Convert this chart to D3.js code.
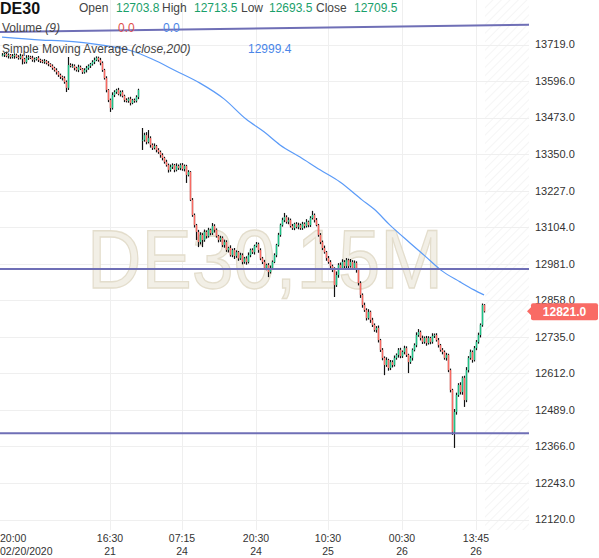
<!DOCTYPE html>
<html><head><meta charset="utf-8">
<script src="https://cdn.jsdelivr.net/npm/d3@7"></script>
<style>
html,body{margin:0;padding:0;background:#fff;}
svg{display:block;font-family:Arial,"Liberation Sans",sans-serif;}
</style></head>
<body>
<svg id="chart" width="599" height="558"></svg>
<script>
// ---- data ----
const closes = [
13684,13687,13680,13684,13677,13680,13684,13677,13674,13680,
13670,13660,13674,13677,13674,13667,13670,13674,13667,13663,
13660,13663,13657,13653,13647,13640,13633,13626,13616,13610,
13606,13593,13573,13650,13647,
13647,13640,13633,13643,13637,13626,13633,13640,13647,13653,
13660,13667,13674,13667,13657,
13633,13606,13566,13532,13505,
13549,13559,13566,13552,13559,13546,
13532,13529,13536,13522,13532,13529,13542,13566,
null,
13398,13414,13391,13404,13381,13371,13377,13364,13357,13347,
13337,13324,13313,13297,13307,13313,13297,13310,13303,13313,
13300,13310,13280,13290,13196,13145,13111,13088,13054,13078,
13061,13088,13074,13095,13084,13108,13095,13074,13061,13068,
13044,13054,13027,13034,13010,13027,13007,13020,12999,13010,
12987,12999,12987,13010,13027,13020,13041,13047,13027,12999,
12987,12967,12977,12953,12967,12987,13010,13044,13078,13111,
13128,13138,13122,13128,13108,13101,13115,13105,13111,13101,
13115,13108,13122,13111,13135,13145,13128,13111,13078,13054,
13034,13020,13000,12987,12973,12960,12909,12943,12977,12967,
12987,12973,12993,12973,12987,12967,12984,12960,12916,12876,
12842,12825,12798,12819,12792,12775,12758,12765,12724,12691,
12664,12640,12657,12630,12650,12640,12664,12674,12691,12670,
12684,12697,12674,12650,12664,12691,12707,12741,12751,12731,
12718,12731,12714,12731,12718,12738,12741,12724,12707,12691,
12684,12664,12674,12623,12556,12415,12482,12539,12573,12549,
12597,12522,12623,12664,12684,12657,12697,12718,12741,12775,
12842,12821
];
const wickUp = [
6,4,8,5,3,7,5,4,6,8, 5,4,9,6,4,7,5,3,6,4, 5,7,4,6,3,5,4,6,3,5,
4,6,5,27,6, 7,5,4,8,5,3,6,7,5,4, 6,8,5,4,7, 5,4,6,3,5, 9,6,4,7,5,6,
4,6,5,7,4,5,6,4, 0,
40,8,10,27,6,5,9,4,6,5, 6,4,7,5,8,6,4,9,5,6, 7,5,4,6,3,6,5,4,7,9,
6,8,5,7,4,10,6,5,4,7, 5,8,6,4,9,5,7,6,4,8, 6,5,7,9,5,6,4,7,5,6,
5,7,4,6,8,5,6,4,7,5, 8,14,6,9,5,7,4,6,8,5, 7,5,9,4,6,14,5,7,4,6,
5,8,4,7,6,5,9,12,6,8, 9,6,7,5,10,6,8,5,4,6, 5,8,6,9,4,7,5,6,8,4,
6,5,9,4,7,6,8,5,6,7, 5,8,6,4,7,5,6,9,10,5, 8,5,7,6,4,9,5,6,7,4,
6,5,7,4,5,4,10,8,6,9, 5,7,10,6,8,5,7,6,8,5, 5,3
];
const wickDown = [
5,7,4,8,6,5,9,4,6,5, 18,6,5,7,4,6,8,5,7,6, 4,6,5,7,4,6,5,8,6,7,
8,6,14,7,5, 6,8,5,7,4,6,5,8,6,7, 5,7,4,6,8, 6,5,8,7,13, 5,7,6,4,8,5,
7,5,6,8,4,6,5,7, 0,
34,6,8,5,9,7,5,8,6,9, 8,6,5,9,6,7,8,5,6,7, 6,8,27,5,4,6,8,27,17,8,
24,6,8,5,7,6,9,5,8,6, 7,9,6,8,5,7,10,6,8,5, 8,6,9,5,7,6,8,5,9,6,
7,6,8,17,5,6,4,7,5,6, 5,7,6,8,5,6,7,5,8,6, 6,8,5,7,6,5,8,4,6,7,
7,5,9,6,8,7,40,6,9,7, 6,9,7,8,5,7,6,9,8,10, 9,6,8,5,10,7,6,9,8,7,
8,34,6,9,7,8,5,6,9,7, 6,8,7,37,6,9,5,7,6,8, 7,6,9,5,8,6,7,5,8,6,
8,6,9,7,8,10,54,9,6,8, 9,23,7,8,6,9,5,7,6,8, 6,4
];
// 200-period SMA readings: [bar index, value]
const smaIdx = [0,20,30,50,65,75,87,99,111,122,131,139,149,159,169,180,186,194,204,212,220,229,236,241];
const smaVal = [13744,13734,13731,13717,13697,13670,13630,13589,13536,13468,13425,13381,13340,13297,13256,13196,13165,13111,13051,13004,12957,12920,12893,12876];
// horizontal levels
const levels = [12963, 12410];
const trendLine = [[0, 13761], [260, 13785]]; // [bar index, price]
const yTicks = [13719,13596,13473,13350,13227,13104,12981,12858,12735,12612,12489,12366,12243,12120];
const xTickIdx = [54, 90, 127, 163, 200, 237];
const xTickTime = ["16:30","07:15","20:30","10:30","00:30","13:45"];
const xTickDate = ["21","24","24","25","26","26"];
const firstTime = "20:00", firstDate = "02/20/2020";
const lastPrice = 12821.0;
const header = {sym:"DE30", open:"12703.8", high:"12713.5", low:"12693.5", close:"12709.5"};

// ---- layout ----
const W = 599, H = 558;
const plotR = 529, plotB = 530;
const x = d3.scaleLinear().domain([0, 241]).range([2, 484]);
const y = d3.scaleLinear().domain([12084.7, 13868.8]).range([plotB, 0]);

const svg = d3.select("#chart");
const defs = svg.append("defs");
const pat = defs.append("pattern").attr("id","hatch").attr("width",6).attr("height",6)
  .attr("patternUnits","userSpaceOnUse").attr("patternTransform","rotate(45)");
pat.append("line").attr("x1",0).attr("y1",0).attr("x2",0).attr("y2",6)
  .attr("stroke","#ececec").attr("stroke-width",1.1);

svg.append("rect").attr("width",W).attr("height",H).attr("fill","#fff");
svg.append("rect").attr("x",485).attr("y",0).attr("width",plotR-485).attr("height",plotB).attr("fill","url(#hatch)");

// grid
const grid = svg.append("g").attr("stroke","#efefef").attr("stroke-width",1).attr("shape-rendering","crispEdges");
grid.selectAll("line.h").data(yTicks).join("line").attr("class","h")
  .attr("x1",0).attr("x2",plotR).attr("y1",d=>Math.round(y(d))+0.5).attr("y2",d=>Math.round(y(d))+0.5);
grid.selectAll("line.v").data(xTickIdx).join("line").attr("class","v")
  .attr("y1",0).attr("y2",plotB).attr("x1",d=>Math.round(x(d))+0.5).attr("x2",d=>Math.round(x(d))+0.5);

// watermark
svg.append("text").attr("x",87).attr("y",288).attr("font-size",84)
  .attr("textLength",356).attr("lengthAdjust","spacingAndGlyphs")
  .attr("fill","#f2efe6").attr("stroke","#e3ddcc").attr("stroke-width",1.3)
  .text("DE30,15M");

// SMA line
const smaPts = smaIdx.map((d,i)=>[x(d), y(smaVal[i])]);
svg.append("path").attr("d", d3.line().curve(d3.curveMonotoneX)(smaPts))
  .attr("fill","none").attr("stroke","#5b9bf8").attr("stroke-width",1.2);

// candles
const bars = closes.map((c,i)=>{
  if (c == null) return null;
  const p = closes[i-1];
  const o = (p == null) ? c : p;
  return {i, o, c, h: Math.max(o,c)+wickUp[i], l: Math.min(o,c)-wickDown[i]};
}).filter(d=>d);
const cg = svg.append("g");
cg.selectAll("line").data(bars).join("line")
  .attr("x1",d=>x(d.i)+0.5).attr("x2",d=>x(d.i)+0.5)
  .attr("y1",d=>y(d.h)).attr("y2",d=>y(d.l))
  .attr("stroke","#111").attr("stroke-width",1.2);
cg.selectAll("rect").data(bars).join("rect")
  .attr("x",d=>x(d.i)-0.25).attr("width",1.5)
  .attr("y",d=>y(Math.max(d.o,d.c)))
  .attr("height",d=>Math.max(0.8, Math.abs(y(d.o)-y(d.c))))
  .attr("fill",d=> d.c >= d.o ? "#1fc287" : "#f86a62");

// level lines
svg.selectAll("line.lvl").data(levels).join("line").attr("class","lvl")
  .attr("x1",0).attr("x2",plotR).attr("y1",d=>y(d)).attr("y2",d=>y(d))
  .attr("stroke","#6f6fb6").attr("stroke-width",2);
const tl = d3.scaleLinear().domain([trendLine[0][0], trendLine[1][0]]).range([trendLine[0][1], trendLine[1][1]]);
svg.append("line").attr("x1",0).attr("y1",y(tl(x.invert(0)))).attr("x2",plotR).attr("y2",y(tl(x.invert(plotR))))
  .attr("stroke","#6f6fb6").attr("stroke-width",2);

// right axis
const ya = svg.append("g").attr("font-size",11).attr("fill","#333");
ya.selectAll("text").data(yTicks).join("text")
  .attr("x",535).attr("y",d=>y(d)).attr("dy","0.35em").text(d=>d.toFixed(1));

// last price tag
const ly = y(lastPrice);
svg.append("path").attr("d",`M527,${ly} L532,${ly-5} L532,${ly+5} Z`).attr("fill","#f96b65");
svg.append("rect").attr("x",531).attr("y",ly-8).attr("width",67).attr("height",17).attr("rx",2).attr("fill","#f96b65");
svg.append("text").attr("x",564.5).attr("y",ly).attr("dy","0.36em").attr("text-anchor","middle")
  .attr("font-size",12).attr("font-weight","bold").attr("fill","#fff").text(lastPrice.toFixed(1));

// bottom axis
const xa = svg.append("g").attr("font-size",10.5).attr("fill","#333");
xa.append("text").attr("x",0).attr("y",542).text(firstTime);
xa.append("text").attr("x",0).attr("y",554.5).text(firstDate);
xa.selectAll("text.t").data(xTickIdx).join("text").attr("class","t")
  .attr("x",d=>x(d)).attr("y",542).attr("text-anchor","middle").text((d,i)=>xTickTime[i]);
xa.selectAll("text.d").data(xTickIdx).join("text").attr("class","d")
  .attr("x",d=>x(d)).attr("y",554.5).attr("text-anchor","middle").text((d,i)=>xTickDate[i]);

// header
const hd = svg.append("g").attr("font-size",12);
hd.append("text").attr("x",0).attr("y",14).attr("font-size",16).attr("font-weight","bold").attr("fill","#111").text(header.sym);
const items = [["Open",79,"#444"],[header.open,116,"#1aa06a"],["High",162,"#444"],[header.high,194,"#1aa06a"],
  ["Low",241,"#444"],[header.low,269,"#1aa06a"],["Close",316,"#444"],[header.close,354,"#1aa06a"]];
items.forEach(d=>hd.append("text").attr("x",d[1]).attr("y",12).attr("fill",d[2]).text(d[0]));
const v = hd.append("text").attr("x",2).attr("y",32).attr("fill","#444");
v.append("tspan").text("Volume ");
v.append("tspan").attr("font-style","italic").text("(9)");
hd.append("text").attr("x",118).attr("y",32).attr("fill","#e0504c").text("0.0");
hd.append("text").attr("x",163).attr("y",32).attr("fill","#4a86e8").text("0.0");
const s = hd.append("text").attr("x",2).attr("y",53).attr("fill","#444");
s.append("tspan").text("Simple Moving Average ");
s.append("tspan").attr("font-style","italic").text("(close,200)");
hd.append("text").attr("x",248).attr("y",53).attr("fill","#4a86e8").text("12999.4");
</script>
</body></html>
